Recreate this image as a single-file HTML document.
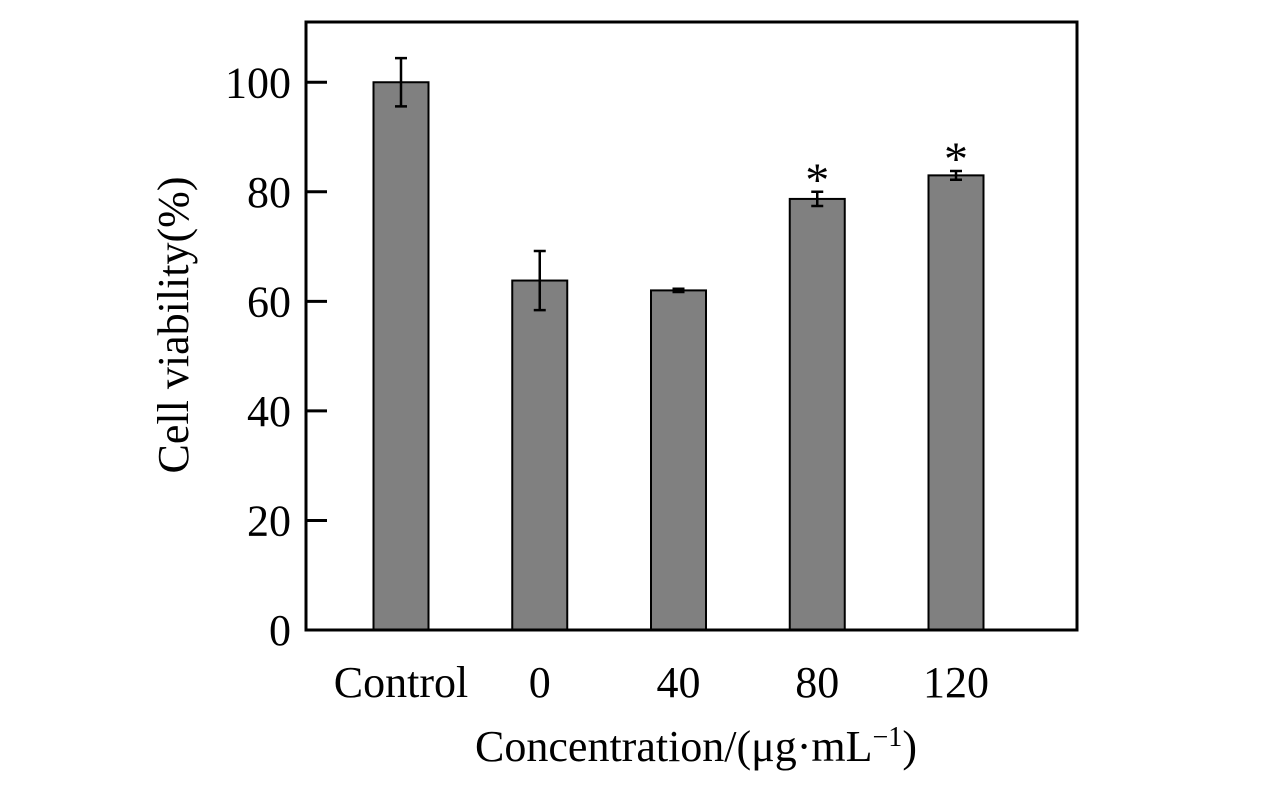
<!DOCTYPE html>
<html><head><meta charset="utf-8"><style>
body{margin:0;background:#fff;}
svg{display:block;font-family:"Liberation Serif",serif;}
</style></head><body>
<svg id="chart" width="1276" height="787"></svg>
<script>
const categories=["Control","0","40","80","120"];
const values=[100,63.8,62,78.7,83];
const errors=[4.4,5.4,0.3,1.3,0.8];
const significant=[false,false,false,true,true];
const yTicks=[0,20,40,60,80,100];
const NS="http://www.w3.org/2000/svg";
const svg=document.getElementById('chart');
const L=306,R=1077,T=22,B=630,yMax=111;
function y(v){return B-(v/yMax)*(B-T);}
function x(i){return 401+i*138.75;}
function mk(tag,attrs,parent){const e=document.createElementNS(NS,tag);for(const k in attrs)e.setAttribute(k,attrs[k]);(parent||svg).appendChild(e);return e;}
const bw=55;
categories.forEach((c,i)=>{
  const g=mk('g',{});
  
  
  mk('rect',{x:x(i)-bw/2,y:y(values[i]),width:bw,height:B-y(values[i]),fill:'#808080',stroke:'#000','stroke-width':2},g);
  const e=mk('path',{d:`M${x(i)},${y(values[i]+errors[i])}V${y(values[i]-errors[i])}M${x(i)-6},${y(values[i]+errors[i])}H${x(i)+6}M${x(i)-6},${y(values[i]-errors[i])}H${x(i)+6}`,stroke:'#000','stroke-width':2.5,fill:'none'},g);
  
  
  if(significant[i]){
    const s=mk('text',{x:x(i),y:y(values[i]+errors[i])+4,'text-anchor':'middle','font-size':48},g);
    s.textContent='*';
    
    
  }
  const t=mk('text',{x:x(i),y:697,'text-anchor':'middle','font-size':44});
  t.textContent=c;
  
  
});
const f=mk('rect',{x:L,y:T,width:R-L,height:B-T,fill:'none',stroke:'#000','stroke-width':3});


yTicks.forEach(v=>{
  const tk=mk('line',{x1:L,x2:L+21,y1:y(v),y2:y(v),stroke:'#000','stroke-width':3});
  
  
  const t=mk('text',{x:291,y:y(v)+15,'text-anchor':'end','font-size':44});
  t.textContent=v;
  
  
});
const yt=mk('text',{x:0,y:0,'text-anchor':'middle','font-size':44,transform:'translate(188,325) rotate(-90)'});
yt.textContent='Cell viability(%)';


const xt=mk('text',{x:696,y:761,'text-anchor':'middle','font-size':44});
xt.innerHTML='Concentration/(μg·mL<tspan font-size="28" dy="-15">−1</tspan><tspan dy="15">)</tspan>';


</script>
</body></html>
